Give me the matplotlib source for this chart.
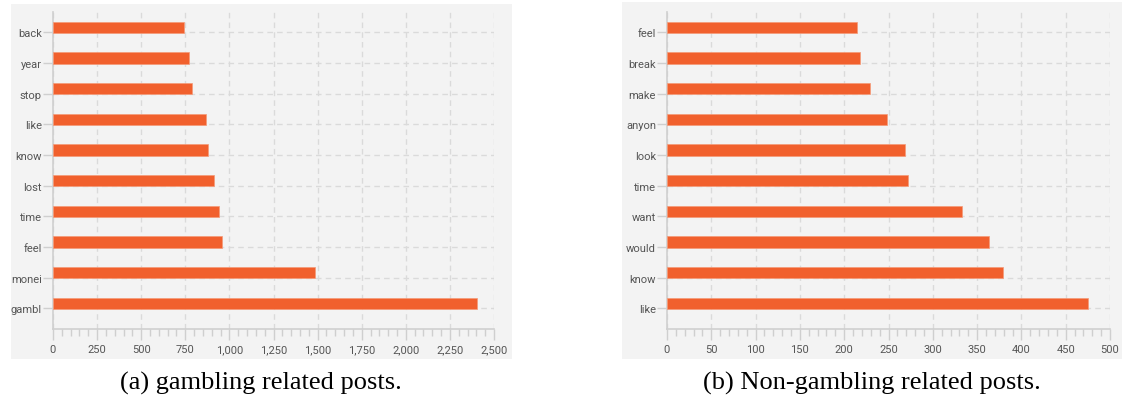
import matplotlib.pyplot as plt
import matplotlib.patches as mpatches
from matplotlib.ticker import MultipleLocator, FuncFormatter

# --- dados (de baixo para cima) ---
words_gamb = ["gambl", "monei", "feel", "time", "lost", "know", "like", "stop", "year", "back"]
counts_gamb = [2405, 1485, 958, 941, 913, 880, 867, 790, 773, 742]

words_non = ["like", "know", "would", "want", "time", "look", "anyon", "make", "break", "feel"]
counts_non = [475, 379, 363, 333, 272, 269, 248, 229, 218, 215]

captions = ["(a) gambling related posts.", "(b) Non-gambling related posts."]

BAR = "#f1602d"
PANEL = "#f3f3f3"
GRID = "#dadada"
SPINE = "#cfcfcf"
TXT = "#555555"

W, H = 1122, 406
fig = plt.figure(figsize=(W / 100, H / 100), dpi=100)
fig.patch.set_facecolor("white")

# painéis cinzentos de fundo (em pixels -> fracção da figura)
for x0, x1, y0, y1 in [(11, 512, 5, 360), (622, 1122, 3, 360)]:
    fig.patches.append(mpatches.Rectangle((x0 / W, 1 - y1 / H), (x1 - x0) / W, (y1 - y0) / H,
                                          transform=fig.transFigure, facecolor=PANEL,
                                          edgecolor="none", zorder=-5))

specs = [
    (words_gamb, counts_gamb, 53, 494, 2500, 250, 50, captions[0], 261),
    (words_non, counts_non, 667, 1110, 500, 50, 10, captions[1], 872),
]

for words, counts, px0, px1, xmax, major, minor, cap, cx in specs:
    ax = fig.add_axes([px0 / W, 1 - 329.5 / H, (px1 - px0) / W, (329.5 - 13) / H])
    ax.set_zorder(2)
    ax.set_facecolor(PANEL)
    ys = list(range(len(words)))
    ax.barh([y - 0.02 for y in ys], counts, height=0.36, align="edge", color=BAR,
            edgecolor="#f59a78", linewidth=0.5, zorder=3)
    ax.set_xlim(0, xmax)
    ax.set_ylim(-0.66, len(words) - 1 + 0.66)
    ax.set_yticks(ys)
    ax.set_yticklabels(words)
    ax.xaxis.set_major_locator(MultipleLocator(major))
    ax.xaxis.set_minor_locator(MultipleLocator(minor))
    ax.xaxis.set_major_formatter(FuncFormatter(lambda v, p: f"{int(v):,}"))
    ax.grid(True, which="major", color=GRID, linestyle=(0, (4, 3)), linewidth=1, zorder=1)
    for s in ("top", "right"):
        ax.spines[s].set_visible(False)
    for s in ("left", "bottom"):
        ax.spines[s].set_color(SPINE)
        ax.spines[s].set_linewidth(1.2)
    ax.tick_params(axis="x", which="major", length=8, width=1, color=SPINE,
                   labelsize=8, labelcolor=TXT, pad=3)
    ax.tick_params(axis="x", which="minor", length=5, width=1, color=SPINE)
    ax.tick_params(axis="y", length=7, width=1, color=SPINE, labelsize=8,
                   labelcolor=TXT, pad=1)
    for lab in ax.get_xticklabels() + ax.get_yticklabels():
        lab.set_fontfamily("Roboto")
    fig.text(cx / W, 1 - 383 / H, cap, ha="center", va="center",
             fontsize=19, family="Liberation Serif", color="black")

plt.savefig("out.png", dpi=100, facecolor=fig.get_facecolor())
